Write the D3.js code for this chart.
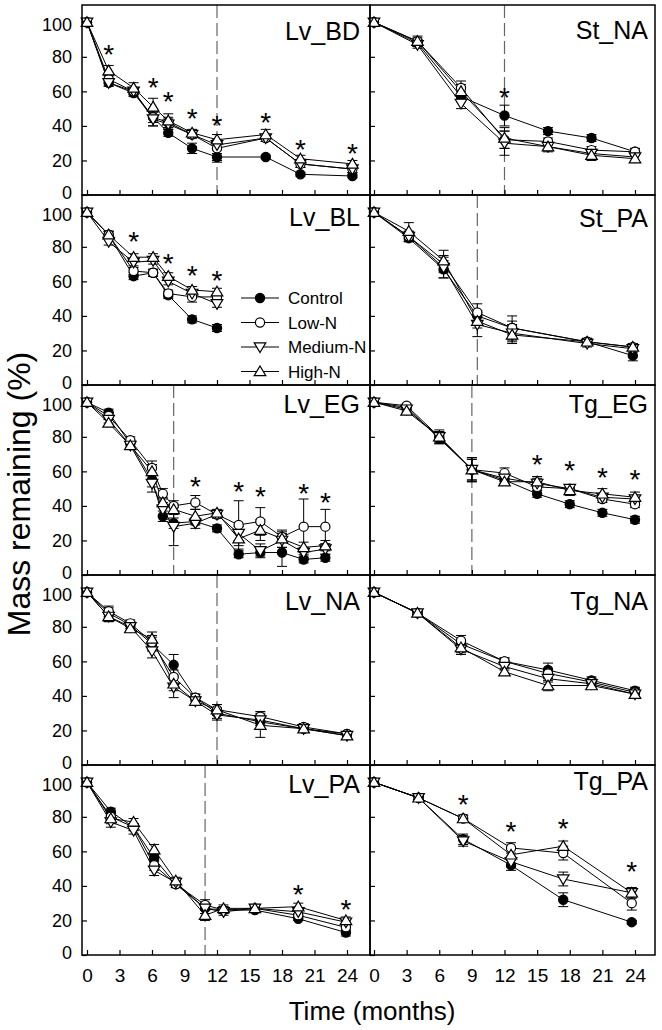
<!DOCTYPE html>
<html><head><meta charset="utf-8">
<script src="https://cdn.jsdelivr.net/npm/d3@7"></script>
<style>
body{margin:0;background:#fff}
svg{display:block}
text{font-family:"Liberation Sans",Arial,Helvetica,sans-serif;fill:#000}
</style>
</head><body>
<svg id="chart" width="662" height="1030"></svg>
<script>
// ---------- DATA ----------
const seriesNames = ["Control", "Low-N", "Medium-N", "High-N"];
const xTickValues = [0, 3, 6, 9, 12, 15, 18, 21, 24];
const yTickValues = [0, 20, 40, 60, 80, 100];
const xTitle = "Time (months)";
const yTitle = "Mass remaining (%)";

// Lv_BD
const lvBD_time = [0, 2, 4.3, 6.1, 7.5, 9.7, 12, 16.5, 19.7, 24.5];
const lvBD_control = [100, 65, 59, 45, 36, 27, 22, 22, 12, 11];
const lvBD_low = [100, 67, 60, 45, 42, 35, 27, 33, 18, 15];
const lvBD_med = [100, 65, 60, 44, 41, 35, 29, 33, 18, 15];
const lvBD_high = [100, 72, 62, 51, 43, 36, 32, 35, 21, 18];
const lvBD_err = [[0,2,2,3,2,3,2,1,1,1],[0,2,2,5,3,2,8,2,2,2],[0,2,2,4,3,2,3,2,2,2],[0,3,3,5,4,2,3,3,2,2]];
const lvBD_sig = [[2,85],[6.1,66],[7.5,58],[9.7,48],[12,44],[16.5,46],[19.7,30],[24.5,28]];

// St_NA
const stNA_time = [0, 4, 8, 12, 16, 20, 24];
const stNA_control = [100, 88, 57, 46, 37, 33, 25];
const stNA_low = [100, 89, 62, 32, 31, 26, 25];
const stNA_med = [100, 87, 53, 30, 28, 24, 22];
const stNA_high = [100, 89, 60, 33, 28, 23, 21];
const stNA_err = [[0,2,3,6,2,2,2],[0,2,4,5,2,2,2],[0,2,3,7,2,2,2],[0,3,4,6,3,3,2]];
const stNA_sig = [[12,60]];

// Lv_BL
const lvBL_time = [0, 2, 4.3, 6.1, 7.5, 9.7, 12];
const lvBL_control = [100, 87, 63, 65, 52, 38, 33];
const lvBL_low = [100, 87, 66, 65, 53, 51, 51];
const lvBL_med = [100, 83, 71, 72, 60, 53, 47];
const lvBL_high = [100, 87, 74, 74, 63, 55, 54];
const lvBL_err = [[0,2,2,2,2,2,2],[0,2,2,2,2,3,2],[0,2,2,2,2,2,2],[0,2,2,2,2,2,2]];
const lvBL_sig = [[4.3,87],[7.5,74],[9.7,67],[12,64]];

// St_PA
const stPA_time = [0, 3.2, 6.4, 9.5, 12.7, 19.6, 23.8];
const stPA_control = [100, 85, 67, 40, 33, 25, 17];
const stPA_low = [100, 86, 70, 42, 33, 25, 22];
const stPA_med = [100, 86, 68, 35, 30, 24, 21];
const stPA_high = [100, 89, 72, 37, 29, 25, 22];
const stPA_err = [[0,2,5,3,4,2,3],[0,3,5,5,7,2,2],[0,3,6,7,5,2,2],[0,5,6,4,5,2,2]];
const stPA_sig = [];

// Lv_EG
const lvEG_time = [0, 2, 4, 6, 7, 8, 10, 12, 14, 16, 18, 20, 22];
const lvEG_control = [100, 94, 76, 55, 34, 30, 31, 27, 12, 13, 13, 9, 10];
const lvEG_low = [100, 92, 78, 62, 47, 40, 42, 35, 29, 31, 22, 28, 28];
const lvEG_med = [100, 90, 75, 53, 38, 28, 30, 35, 24, 14, 20, 13, 15];
const lvEG_high = [100, 88, 75, 60, 42, 38, 34, 36, 21, 26, 21, 16, 17];
const lvEG_err = [[0,2,2,4,3,3,2,2,2,2,8,2,2],[0,2,2,4,3,3,4,2,14,8,3,16,10],[0,2,2,5,4,11,3,2,4,4,4,3,3],[0,2,2,4,3,3,4,2,4,6,5,3,3]];
const lvEG_sig = [[10,55],[14,52],[16,49],[20,51],[22,46]];

// Tg_EG
const tgEG_time = [0, 3, 6, 9, 12, 15, 18, 21, 24];
const tgEG_control = [100, 97, 79, 61, 55, 47, 41, 36, 32];
const tgEG_low = [100, 98, 80, 61, 59, 51, 50, 44, 41];
const tgEG_med = [100, 96, 80, 61, 56, 53, 50, 45, 44];
const tgEG_high = [100, 95, 80, 61, 54, 54, 49, 47, 45];
const tgEG_err = [[0,1,3,6,2,2,2,2,2],[0,1,4,7,3,2,2,2,2],[0,1,3,7,2,3,2,2,2],[0,1,3,6,2,3,3,3,3]];
const tgEG_sig = [[15,68],[18,64],[21,60],[24,59]];

// Lv_NA
const lvNA_time = [0, 2, 4, 6, 8, 10, 12, 16, 20, 24];
const lvNA_control = [100, 88, 81, 70, 58, 39, 30, 25, 21, 18];
const lvNA_low = [100, 89, 82, 71, 51, 39, 32, 28, 22, 18];
const lvNA_med = [100, 86, 80, 66, 45, 37, 29, 26, 21, 17];
const lvNA_high = [100, 86, 79, 73, 47, 37, 32, 23, 21, 17];
const lvNA_err = [[0,3,2,4,6,2,3,2,2,1],[0,3,2,4,4,2,3,3,2,1],[0,3,2,4,6,2,3,3,2,1],[0,3,2,4,4,2,3,7,2,1]];
const lvNA_sig = [];

// Tg_NA
const tgNA_time = [0, 4, 8, 12, 16, 20, 24];
const tgNA_control = [100, 88, 70, 60, 55, 49, 43];
const tgNA_low = [100, 88, 72, 60, 53, 48, 42];
const tgNA_med = [100, 88, 67, 57, 50, 47, 41];
const tgNA_high = [100, 88, 68, 54, 46, 46, 41];
const tgNA_err = [[0,1,2,2,4,2,2],[0,1,3,2,3,2,2],[0,1,3,2,2,2,2],[0,1,3,2,3,2,2]];
const tgNA_sig = [];

// Lv_PA
const lvPA_time = [0, 2.2, 4.3, 6.2, 8.2, 10.9, 12.6, 15.5, 19.5, 23.9];
const lvPA_control = [100, 83, 74, 56, 41, 27, 26, 26, 21, 13];
const lvPA_low = [100, 80, 74, 52, 41, 29, 26, 27, 23, 16];
const lvPA_med = [100, 77, 72, 49, 42, 27, 25, 27, 25, 19];
const lvPA_high = [100, 79, 77, 61, 43, 23, 27, 27, 28, 20];
const lvPA_err = [[0,2,2,2,2,3,2,1,1,2],[0,2,2,3,2,3,2,1,1,2],[0,3,2,3,2,3,2,1,2,2],[0,3,2,3,2,3,2,1,2,2]];
const lvPA_sig = [[19.5,39],[23.9,30]];

// Tg_PA
const tgPA_time = [0, 4.1, 8.2, 12.6, 17.4, 23.7];
const tgPA_control = [100, 91, 67, 52, 32, 19];
const tgPA_low = [100, 91, 79, 62, 59, 30];
const tgPA_med = [100, 91, 66, 54, 44, 36];
const tgPA_high = [100, 91, 79, 58, 63, 36];
const tgPA_err = [[0,1,3,3,4,1],[0,1,2,3,4,4],[0,1,3,3,4,3],[0,1,2,3,3,3]];
const tgPA_sig = [[8.2,91],[12.6,75],[17.4,77],[23.7,52]];

// panel names and dashed reference lines (months), null = none
const panelNames = ["Lv_BD","St_NA","Lv_BL","St_PA","Lv_EG","Tg_EG","Lv_NA","Tg_NA","Lv_PA","Tg_PA"];
const dashedAt = [12, 12, null, 9.5, 8, 9, 12, null, 10.9, null];

const panels = [
  {t: lvBD_time, v: [lvBD_control, lvBD_low, lvBD_med, lvBD_high], e: lvBD_err, s: lvBD_sig},
  {t: stNA_time, v: [stNA_control, stNA_low, stNA_med, stNA_high], e: stNA_err, s: stNA_sig},
  {t: lvBL_time, v: [lvBL_control, lvBL_low, lvBL_med, lvBL_high], e: lvBL_err, s: lvBL_sig},
  {t: stPA_time, v: [stPA_control, stPA_low, stPA_med, stPA_high], e: stPA_err, s: stPA_sig},
  {t: lvEG_time, v: [lvEG_control, lvEG_low, lvEG_med, lvEG_high], e: lvEG_err, s: lvEG_sig},
  {t: tgEG_time, v: [tgEG_control, tgEG_low, tgEG_med, tgEG_high], e: tgEG_err, s: tgEG_sig},
  {t: lvNA_time, v: [lvNA_control, lvNA_low, lvNA_med, lvNA_high], e: lvNA_err, s: lvNA_sig},
  {t: tgNA_time, v: [tgNA_control, tgNA_low, tgNA_med, tgNA_high], e: tgNA_err, s: tgNA_sig},
  {t: lvPA_time, v: [lvPA_control, lvPA_low, lvPA_med, lvPA_high], e: lvPA_err, s: lvPA_sig},
  {t: tgPA_time, v: [tgPA_control, tgPA_low, tgPA_med, tgPA_high], e: tgPA_err, s: tgPA_sig}
];

// ---------- LAYOUT ----------
const svg = d3.select("#chart");
const colX = [[82, 370], [370, 655]];           // panel left/right edges
const colRange = [[87, 347], [374, 635]];       // pixel for 0 and 24 months
const rowTop = 5, rowH = 190;
const labelDy = [[35, 34], [31, 32], [28, 28], [35, 35], [28, 25]];
const fontFam = '"Liberation Sans", Arial, sans-serif';

function markerPath(k) {
  if (k === 2) return "M0,5.5L5.8,-4.2L-5.8,-4.2Z";
  return "M0,-5.5L5.8,4.2L-5.8,4.2Z";
}
function drawMarker(g, k, x, y) {
  if (k < 2) {
    g.append("circle").attr("cx", x).attr("cy", y).attr("r", 4.6)
      .attr("fill", k === 0 ? "#000" : "#fff").attr("stroke", "#000").attr("stroke-width", 1.2);
  } else {
    g.append("path").attr("d", markerPath(k)).attr("transform", `translate(${x},${y})`)
      .attr("fill", "#fff").attr("stroke", "#000").attr("stroke-width", 1.2);
  }
}

panels.forEach((p, i) => {
  const col = i % 2, row = Math.floor(i / 2);
  const top = rowTop + row * rowH, bottom = top + rowH;
  const x = d3.scaleLinear().domain([0, 24]).range(colRange[col]);
  const y = d3.scaleLinear().domain([0, 110]).range([bottom, top]);
  const g = svg.append("g");

  if (dashedAt[i] !== null) {
    g.append("line").attr("x1", x(dashedAt[i])).attr("x2", x(dashedAt[i]))
      .attr("y1", top).attr("y2", bottom)
      .attr("stroke", "#666").attr("stroke-width", 1.2).attr("stroke-dasharray", "13,5");
  }

  const xAxis = d3.axisTop(x).tickValues(xTickValues).tickSize(5).tickFormat("");
  g.append("g").attr("transform", `translate(0,${bottom})`).call(xAxis)
    .call(a => a.select(".domain").remove())
    .selectAll("line").attr("stroke", "#000").attr("stroke-width", 1.2);
  const yAxis = d3.axisRight(y).tickValues(yTickValues).tickSize(5).tickFormat("");
  g.append("g").attr("transform", `translate(${colX[col][0]},0)`).call(yAxis)
    .call(a => a.select(".domain").remove())
    .selectAll("line").attr("stroke", "#000").attr("stroke-width", 1.2);

  if (col === 0) {
    const yl = d3.axisLeft(y).tickValues(yTickValues).tickSize(0).tickPadding(10);
    const ga = g.append("g").attr("transform", `translate(${colX[col][0]},0)`).call(yl)
      .call(a => a.select(".domain").remove());
    ga.selectAll("text").attr("font-size", 18).attr("font-family", fontFam).attr("fill", "#222")
      .attr("dy", d => d === 0 ? "0.2em" : (d === 100 ? "0.44em" : "0.32em"));
  }
  if (row === 4) {
    const xl = d3.axisBottom(x).tickValues(xTickValues).tickSize(0).tickPadding(14);
    g.append("g").attr("transform", `translate(0,${bottom})`).call(xl)
      .call(a => a.select(".domain").remove())
      .selectAll("text").attr("font-size", 19).attr("font-family", fontFam).attr("fill", "#222");
  }

  p.v.forEach((vals, k) => {
    const pts = p.t.map((t, j) => [x(t), y(vals[j])]);
    g.append("path").attr("d", d3.line()(pts)).attr("fill", "none")
      .attr("stroke", "#000").attr("stroke-width", 1);
    p.t.forEach((t, j) => {
      const er = p.e[k][j];
      if (er > 0) {
        const cx = x(t), y1 = y(vals[j] + er), y2 = y(vals[j] - er);
        g.append("line").attr("x1", cx).attr("x2", cx).attr("y1", y1).attr("y2", y2).attr("stroke", "#000").attr("stroke-width", 1);
        g.append("line").attr("x1", cx - 5).attr("x2", cx + 5).attr("y1", y1).attr("y2", y1).attr("stroke", "#000").attr("stroke-width", 1);
        g.append("line").attr("x1", cx - 5).attr("x2", cx + 5).attr("y1", y2).attr("y2", y2).attr("stroke", "#000").attr("stroke-width", 1);
      }
    });
  });
  p.v.forEach((vals, k) => {
    p.t.forEach((t, j) => drawMarker(g, k, x(t), y(vals[j])));
  });

  p.s.forEach(([t, v]) => {
    g.append("text").attr("x", x(t)).attr("y", y(v) + 16).attr("text-anchor", "middle")
      .attr("font-size", 28).attr("font-family", fontFam).text("*");
  });

  g.append("text").attr("x", colX[col][1] - (col === 0 ? 10 : 7)).attr("y", top + labelDy[row][col])
    .attr("text-anchor", "end").attr("font-size", 25).attr("font-family", fontFam).text(panelNames[i]);

  g.append("rect").attr("x", colX[col][0]).attr("y", top).attr("width", colX[col][1] - colX[col][0])
    .attr("height", rowH).attr("fill", "none").attr("stroke", "#000").attr("stroke-width", 1.5);

  if (i === 2) {
    seriesNames.forEach((nm, k) => {
      const ly = 298 + k * 24.5;
      g.append("line").attr("x1", 241).attr("x2", 279).attr("y1", ly).attr("y2", ly).attr("stroke", "#000").attr("stroke-width", 1);
      drawMarker(g, k, 260, ly);
      g.append("text").attr("x", 288).attr("y", ly + 6).attr("font-size", 17).attr("font-family", fontFam).text(nm);
    });
  }
});

svg.append("text").attr("x", 372).attr("y", 1020).attr("text-anchor", "middle")
  .attr("font-size", 26).attr("font-family", fontFam).text(xTitle);
svg.append("text").attr("transform", "translate(30,494) rotate(-90)").attr("text-anchor", "middle")
  .attr("font-size", 32).attr("font-family", fontFam).text(yTitle);
</script>
</body></html>
